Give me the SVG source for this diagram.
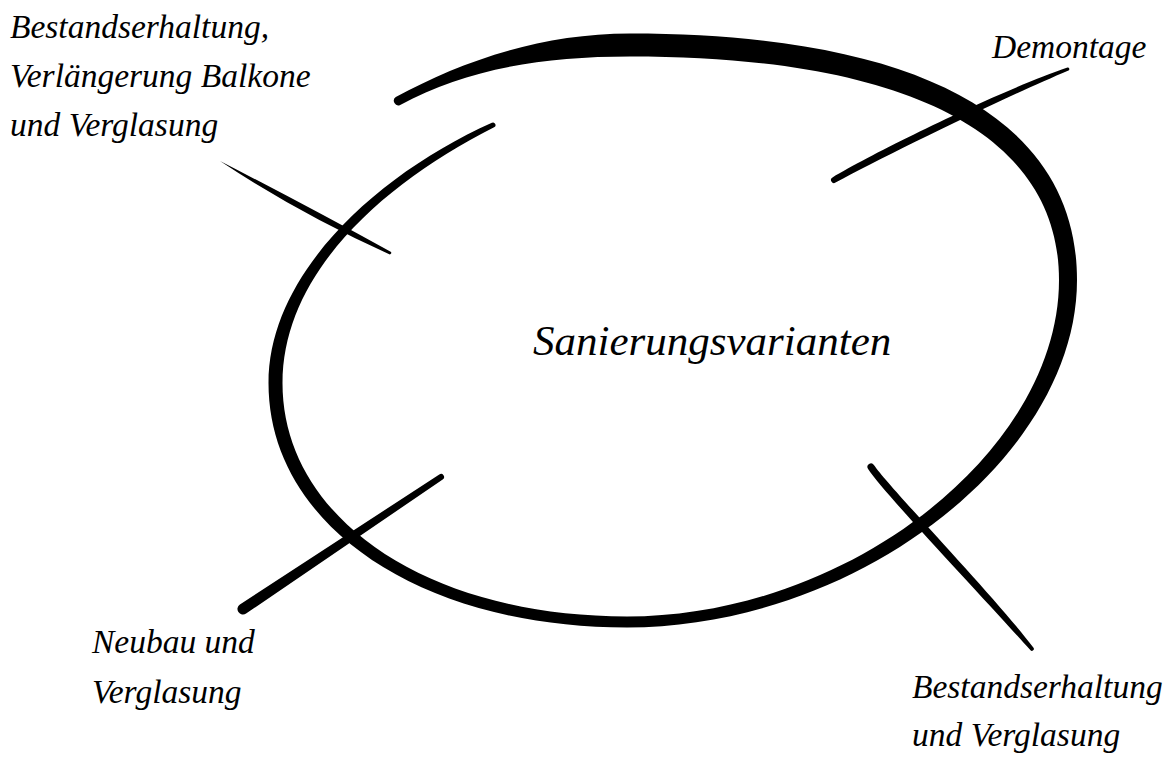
<svg xmlns="http://www.w3.org/2000/svg" width="1174" height="763" viewBox="0 0 1174 763">
<style>
.lbl{font-family:"Liberation Serif","Times New Roman",serif;font-style:italic;font-size:33.5px;fill:#000}
.ctr{font-family:"Liberation Serif","Times New Roman",serif;font-style:italic;font-size:43px;fill:#000}
.ink{fill:#000;stroke:none}
</style>
<rect width="1174" height="763" fill="#fff"/>
<g id="hub">
<path class="ink" d="M 491.9 122.75 C 378.1 173.8 268.5 273 268.5 383 C 268.5 524.8 419.1 627.5 627 627.5 C 856.5 627.5 1077 457.2 1077 280 C 1077 119.8 920.6 33.5 630 33.5 C 540 33.5 459.8 62.05 395.8 97.1 A 4.5 4.5 0 0 0 400.2 104.9 C 464.2 69.95 540 56.5 630 56.5 C 908.9 56.5 1059 134.7 1059 280 C 1059 451.6 847.3 616.5 627 616.5 C 427.2 616.5 282.5 518.4 282.5 383 C 282.5 273 382.9 183.7 494.1 127.25 A 2.5 2.5 0 0 0 491.9 122.75 Z"/>
<text class="ctr" x="533" y="355">Sanierungsvarianten</text>
</g>
<g id="connectors">
<path class="ink" d="M 220 161 Q 302.5 203.4 390.7 251.7 A 1.5 1.5 0 0 1 389.3 254.3 Q 297.5 212.6 220 161 Z"/>
<path class="ink" d="M 239.9 604.4 L 439.3 474.5 A 3 3 0 0 1 442.7 479.5 L 246.1 613.6 A 5.5 5.5 0 0 1 239.9 604.4 Z"/>
<path class="ink" d="M 868.1 469 C 884.7 494.2 986.5 600.9 1030.5 650.3 A 2 2 0 0 0 1033.5 647.7 C 993.5 595.1 891.3 489.8 873.9 465 A 3.5 3.5 0 0 0 868.1 469 Z"/>
<path class="ink" d="M 832.5 177.4 C 878 150.5 998.6 91.3 1067.5 67.6 A 1.5 1.5 0 0 1 1068.5 70.4 C 1001.4 98.7 882 157.5 835.5 182.6 A 3 3 0 0 1 832.5 177.4 Z"/>
</g>
<g id="label-bestand-balkone">
<text class="lbl" x="10" y="38">Bestandserhaltung,</text>
<text class="lbl" x="10" y="87">Verlängerung Balkone</text>
<text class="lbl" x="10" y="136">und Verglasung</text>
</g>
<g id="label-demontage">
<text class="lbl" x="992" y="58">Demontage</text>
</g>
<g id="label-neubau">
<text class="lbl" x="92" y="653">Neubau und</text>
<text class="lbl" x="92" y="703">Verglasung</text>
</g>
<g id="label-bestand-verglasung">
<text class="lbl" x="912" y="698">Bestandserhaltung</text>
<text class="lbl" x="912" y="746">und Verglasung</text>
</g>
</svg>
